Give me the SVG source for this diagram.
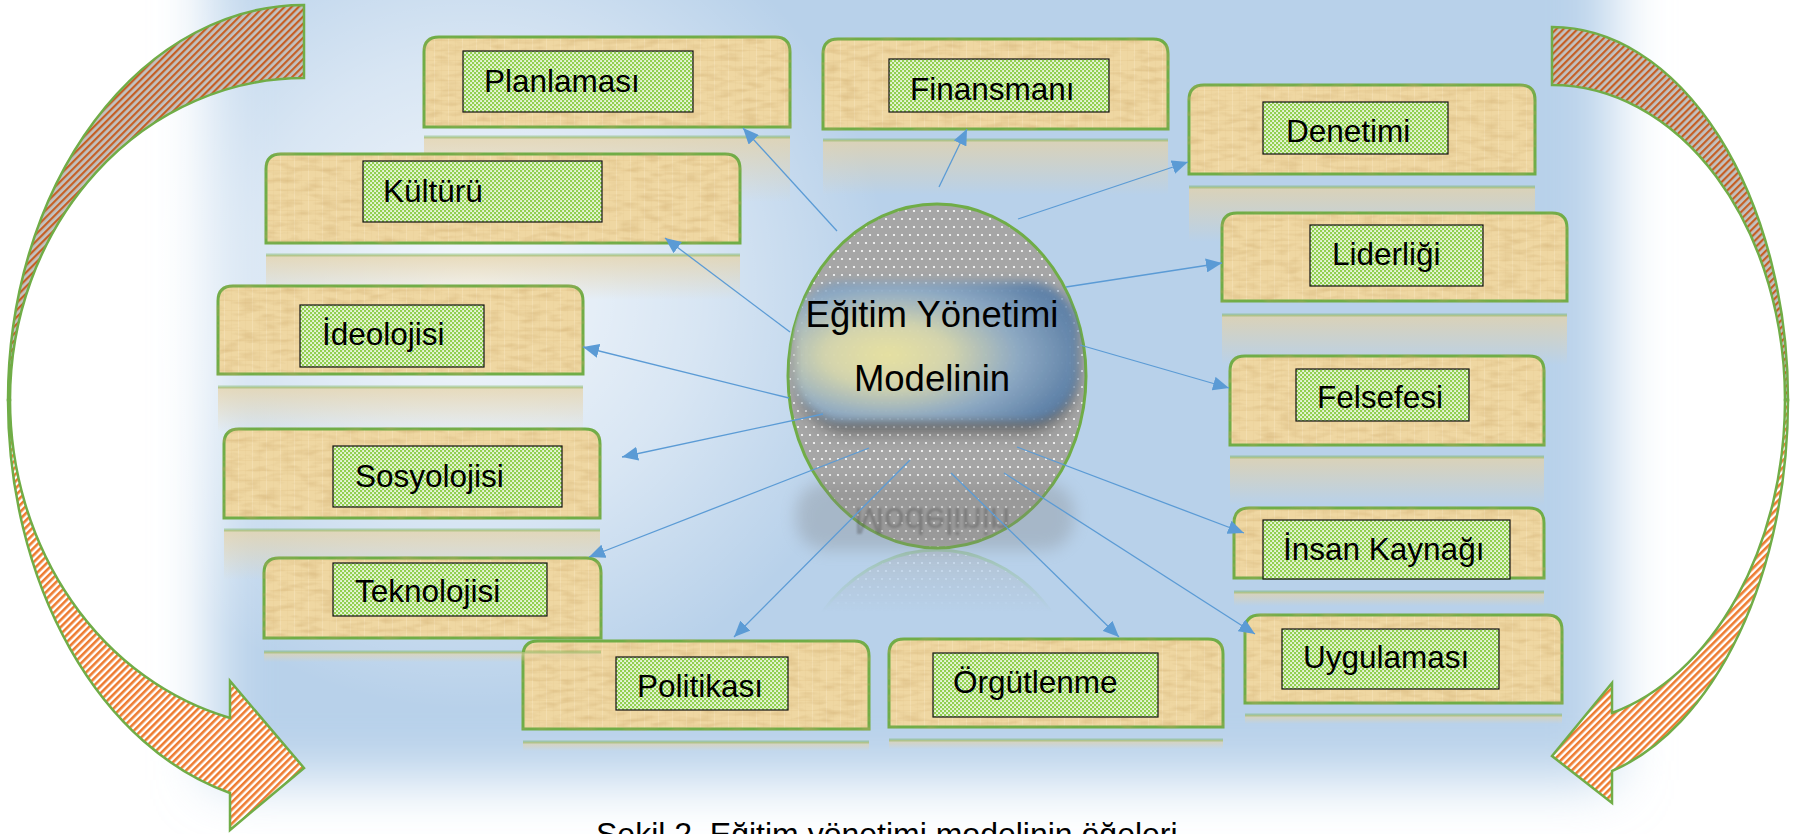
<svg xmlns="http://www.w3.org/2000/svg" width="1795" height="834" viewBox="0 0 1795 834">
<defs>
  <style>
    .tab{fill:url(#parch);stroke:#70ad47;stroke-width:3;filter:url(#paper)}
    .box{fill:url(#check);stroke:#111;stroke-width:1.2}
    .lbl{font-family:"Liberation Sans",Arial,sans-serif;font-size:31.5px;fill:#000}
    .refl{fill:url(#reflFade)}
    .rline{stroke:#70ad47;stroke-width:3;opacity:.4}
    .conn{stroke:#5b9bd5;stroke-width:1.3;fill:none;marker-end:url(#ah)}
    .band{stroke:#70ad47;stroke-width:2.5;stroke-linejoin:miter}
  </style>
  <filter id="bgBlur" x="-10%" y="-15%" width="120%" height="130%">
    <feGaussianBlur stdDeviation="28"/>
  </filter>
  <filter id="soft" x="-20%" y="-30%" width="140%" height="160%">
    <feGaussianBlur stdDeviation="5"/>
  </filter>
  <filter id="softer" x="-20%" y="-40%" width="140%" height="180%">
    <feGaussianBlur stdDeviation="8"/>
  </filter>
  <filter id="tiny" x="-5%" y="-20%" width="110%" height="140%">
    <feGaussianBlur stdDeviation="1.2"/>
  </filter>
  <!-- faint mottled papyrus look for the tabs -->
  <filter id="paper" x="-2%" y="-4%" width="104%" height="108%" color-interpolation-filters="sRGB">
    <feTurbulence type="fractalNoise" baseFrequency="0.05 0.18" numOctaves="2" seed="7" result="n"/>
    <feColorMatrix in="n" type="matrix" values="0 0 0 0 0.8  0 0 0 0 0.66  0 0 0 0 0.42  0 0 0 0.9 -0.4" result="spots"/>
    <feComposite in="spots" in2="SourceGraphic" operator="in" result="sp"/>
    <feMerge><feMergeNode in="SourceGraphic"/><feMergeNode in="sp"/></feMerge>
  </filter>
  <radialGradient id="hl" gradientUnits="userSpaceOnUse" cx="470" cy="290" r="420">
    <stop offset="0" stop-color="#ffffff" stop-opacity=".85"/>
    <stop offset=".55" stop-color="#ffffff" stop-opacity=".45"/>
    <stop offset="1" stop-color="#ffffff" stop-opacity="0"/>
  </radialGradient>
  <pattern id="stripeDark" width="5" height="5" patternUnits="userSpaceOnUse" patternTransform="rotate(45)">
    <rect width="5" height="5" fill="#c2c2c2"/>
    <rect width="2.2" height="5" fill="#c55f25"/>
  </pattern>
  <pattern id="stripeLight" width="5" height="5" patternUnits="userSpaceOnUse" patternTransform="rotate(45)">
    <rect width="5" height="5" fill="#ffffff"/>
    <rect width="2.6" height="5" fill="#ee7b30"/>
  </pattern>
  <pattern id="parch" width="14" height="10" patternUnits="userSpaceOnUse">
    <rect width="14" height="10" fill="#efd7a2"/>
    <rect width="14" height="1" fill="#e4c990" opacity=".35"/>
    <rect width="1" height="10" fill="#f7e6be" opacity=".5"/>
    <rect x="7" width="1" height="10" fill="#e6cb94" opacity=".25"/>
  </pattern>
  <pattern id="check" width="4" height="4" patternUnits="userSpaceOnUse">
    <rect width="4" height="4" fill="#92d050"/>
    <rect x=".2" y=".2" width="1.7" height="1.7" fill="#ffffff"/>
    <rect x="2.2" y="2.2" width="1.7" height="1.7" fill="#ffffff"/>
  </pattern>
  <pattern id="dots" width="8" height="16" patternUnits="userSpaceOnUse">
    <rect width="8" height="16" fill="#a6a6a6"/>
    <circle cx="2" cy="3" r="1.1" fill="#ffffff"/>
    <circle cx="6" cy="11" r="1.1" fill="#ffffff"/>
  </pattern>
  <linearGradient id="reflFade" x1="0" y1="0" x2="0" y2="1">
    <stop offset="0" stop-color="#e6d2a6" stop-opacity=".75"/>
    <stop offset="1" stop-color="#e6d2a6" stop-opacity="0"/>
  </linearGradient>
  <radialGradient id="pillGrad" cx=".33" cy=".52" r=".7">
    <stop offset="0" stop-color="#ede7a4"/>
    <stop offset=".3" stop-color="#dcdcb0"/>
    <stop offset=".65" stop-color="#91aec9"/>
    <stop offset="1" stop-color="#5b80a9"/>
  </radialGradient>
  <clipPath id="ellClip">
    <ellipse cx="937" cy="376" rx="149" ry="172"/>
  </clipPath>
  <linearGradient id="ellRefGrad" gradientUnits="userSpaceOnUse" x1="0" y1="549" x2="0" y2="612">
    <stop offset="0" stop-color="#fff" stop-opacity=".35"/>
    <stop offset="1" stop-color="#fff" stop-opacity="0"/>
  </linearGradient>
  <mask id="ellRefMask" maskUnits="userSpaceOnUse" x="700" y="540" width="480" height="90">
    <rect x="700" y="540" width="480" height="90" fill="url(#ellRefGrad)"/>
  </mask>
  <marker id="ah" markerUnits="userSpaceOnUse" markerWidth="16" markerHeight="14" refX="16" refY="7" orient="auto">
    <path d="M0,0 L16,7 L0,14 Z" fill="#5b9bd5"/>
  </marker>
</defs>

<!-- soft blue backdrop -->
<g id="backdrop">
  <rect x="212" y="-120" width="1400" height="900" fill="#b8d1ea" filter="url(#bgBlur)"/>
  <rect x="0" y="0" width="1795" height="834" fill="url(#hl)"/>
</g>

<!-- circular arrows -->
<g id="arrow-left">
  <path class="band" fill="url(#stripeDark)" d="M304,5 L304,78 A294,322 0 0 0 10,400 L8,400 A296,395 0 0 1 304,5 Z"/>
  <path class="band" fill="url(#stripeLight)" d="M8,400 A296,406 0 0 0 230,793 L230,830 L304,768 L230,681 L230,718 A294,329 0 0 1 10,400 Z"/>
</g>
<g id="arrow-right">
  <path class="band" fill="url(#stripeDark)" d="M1552,27 L1552,85 A233,315 0 0 1 1785,400 L1788,400 A236,373 0 0 0 1552,27 Z"/>
  <path class="band" fill="url(#stripeLight)" d="M1788,400 A236,384 0 0 1 1612,771 L1612,803 L1552,756 L1612,683 L1612,713 A233,324 0 0 0 1785,400 Z"/>
</g>

<!-- nodes -->
<g id="node-planlamasi">
  <rect class="refl" x="424" y="137" width="366" height="65"/>
  <line class="rline" x1="424" y1="137" x2="790" y2="137"/>
  <path class="tab" d="M424,127 V52 Q424,37 439,37 H775 Q790,37 790,52 V127 Z"/>
  <rect class="box" x="463" y="51" width="230" height="61"/>
  <text class="lbl" x="484" y="92">Planlaması</text>
</g>
<g id="node-finansmani">
  <rect class="refl" x="823" y="140" width="345" height="55"/>
  <line class="rline" x1="823" y1="140" x2="1168" y2="140"/>
  <path class="tab" d="M823,129 V54 Q823,39 838,39 H1153 Q1168,39 1168,54 V129 Z"/>
  <rect class="box" x="889" y="59" width="220" height="53"/>
  <text class="lbl" x="910" y="100">Finansmanı</text>
</g>
<g id="node-kulturu">
  <rect class="refl" x="266" y="255" width="474" height="45"/>
  <line class="rline" x1="266" y1="255" x2="740" y2="255"/>
  <path class="tab" d="M266,243 V169 Q266,154 281,154 H725 Q740,154 740,169 V243 Z"/>
  <rect class="box" x="363" y="161" width="239" height="61"/>
  <text class="lbl" x="383" y="202">Kültürü</text>
</g>
<g id="node-denetimi">
  <rect class="refl" x="1189" y="187" width="346" height="55"/>
  <line class="rline" x1="1189" y1="187" x2="1535" y2="187"/>
  <path class="tab" d="M1189,174 V100 Q1189,85 1204,85 H1520 Q1535,85 1535,100 V174 Z"/>
  <rect class="box" x="1263" y="102" width="185" height="52"/>
  <text class="lbl" x="1286" y="142">Denetimi</text>
</g>
<g id="node-liderligi">
  <rect class="refl" x="1222" y="315" width="345" height="50"/>
  <line class="rline" x1="1222" y1="315" x2="1567" y2="315"/>
  <path class="tab" d="M1222,301 V228 Q1222,213 1237,213 H1552 Q1567,213 1567,228 V301 Z"/>
  <rect class="box" x="1310" y="225" width="173" height="61"/>
  <text class="lbl" x="1332" y="265">Liderliği</text>
</g>
<g id="node-ideolojisi">
  <rect class="refl" x="218" y="387" width="365" height="45"/>
  <line class="rline" x1="218" y1="387" x2="583" y2="387"/>
  <path class="tab" d="M218,374 V301 Q218,286 233,286 H568 Q583,286 583,301 V374 Z"/>
  <rect class="box" x="300" y="305" width="184" height="62"/>
  <text class="lbl" x="322" y="345">İdeolojisi</text>
</g>
<g id="node-felsefesi">
  <rect class="refl" x="1230" y="457" width="314" height="48"/>
  <line class="rline" x1="1230" y1="457" x2="1544" y2="457"/>
  <path class="tab" d="M1230,445 V371 Q1230,356 1245,356 H1529 Q1544,356 1544,371 V445 Z"/>
  <rect class="box" x="1296" y="369" width="173" height="52"/>
  <text class="lbl" x="1317" y="408">Felsefesi</text>
</g>
<g id="node-sosyolojisi">
  <rect class="refl" x="224" y="530" width="376" height="50"/>
  <line class="rline" x1="224" y1="530" x2="600" y2="530"/>
  <path class="tab" d="M224,518 V444 Q224,429 239,429 H585 Q600,429 600,444 V518 Z"/>
  <rect class="box" x="333" y="446" width="229" height="61"/>
  <text class="lbl" x="355" y="487">Sosyolojisi</text>
</g>
<g id="node-insan-kaynagi">
  <rect class="refl" x="1234" y="592" width="310" height="14"/>
  <line class="rline" x1="1234" y1="592" x2="1544" y2="592"/>
  <path class="tab" d="M1234,578 V523 Q1234,508 1249,508 H1529 Q1544,508 1544,523 V578 Z"/>
  <rect class="box" x="1263" y="520" width="247" height="59"/>
  <text class="lbl" x="1283" y="560">İnsan Kaynağı</text>
</g>
<g id="node-politikasi">
  <rect class="refl" x="523" y="742" width="346" height="9"/>
  <line class="rline" x1="523" y1="742" x2="869" y2="742"/>
  <path class="tab" d="M523,729 V656 Q523,641 538,641 H854 Q869,641 869,656 V729 Z"/>
  <rect class="box" x="616" y="657" width="172" height="53"/>
  <text class="lbl" x="637" y="697">Politikası</text>
</g>
<g id="node-teknolojisi">
  <rect class="refl" x="264" y="652" width="337" height="10"/>
  <line class="rline" x1="264" y1="652" x2="601" y2="652"/>
  <path class="tab" d="M264,638 V573 Q264,558 279,558 H586 Q601,558 601,573 V638 Z"/>
  <rect class="box" x="333" y="563" width="214" height="53"/>
  <text class="lbl" x="355" y="602">Teknolojisi</text>
</g>
<g id="node-uygulamasi">
  <rect class="refl" x="1245" y="715" width="317" height="9"/>
  <line class="rline" x1="1245" y1="715" x2="1562" y2="715"/>
  <path class="tab" d="M1245,703 V630 Q1245,615 1260,615 H1547 Q1562,615 1562,630 V703 Z"/>
  <rect class="box" x="1282" y="629" width="217" height="60"/>
  <text class="lbl" x="1303" y="668">Uygulaması</text>
</g>
<g id="node-orgutlenme">
  <rect class="refl" x="889" y="740" width="334" height="9"/>
  <line class="rline" x1="889" y1="740" x2="1223" y2="740"/>
  <path class="tab" d="M889,727 V654 Q889,639 904,639 H1208 Q1223,639 1223,654 V727 Z"/>
  <rect class="box" x="933" y="653" width="225" height="64"/>
  <text class="lbl" x="953" y="693">Örgütlenme</text>
</g>

<!-- central ellipse -->
<g id="node-center">
  <g mask="url(#ellRefMask)">
    <ellipse cx="937" cy="722" rx="149" ry="172" fill="url(#dots)" stroke="#70ad47" stroke-width="3"/>
  </g>
  <ellipse cx="937" cy="376" rx="149" ry="172" fill="url(#dots)" stroke="#70ad47" stroke-width="3"/>
  <rect x="796" y="482" width="278" height="68" rx="30" fill="#7d7d7d" opacity=".3" filter="url(#softer)"/>
  <g clip-path="url(#ellClip)">
    <rect x="800" y="296" width="274" height="136" rx="50" fill="#2e2e2e" opacity=".55" filter="url(#softer)"/>
    <rect x="794" y="282" width="284" height="140" rx="50" fill="url(#pillGrad)" opacity=".95" filter="url(#soft)"/>
  </g>
  <text x="932" y="391" transform="translate(0,899) scale(1,-1)" text-anchor="middle" font-family="Liberation Sans, Arial, sans-serif" font-size="36.5" fill="#444" opacity=".35" filter="url(#tiny)">Modelinin</text>
  <text x="932" y="327" text-anchor="middle" font-family="Liberation Sans, Arial, sans-serif" font-size="36.5" fill="#000">Eğitim Yönetimi</text>
  <text x="932" y="391" text-anchor="middle" font-family="Liberation Sans, Arial, sans-serif" font-size="36.5" fill="#000">Modelinin</text>
</g>

<!-- connectors -->
<g id="connectors">
  <line class="conn" x1="837" y1="231" x2="743" y2="128"/>
  <line class="conn" x1="790" y1="332" x2="665" y2="238"/>
  <line class="conn" x1="939" y1="187" x2="967" y2="129"/>
  <line class="conn" x1="1018" y1="219" x2="1188" y2="162"/>
  <line class="conn" x1="1066" y1="287" x2="1222" y2="263"/>
  <line class="conn" x1="1080" y1="345" x2="1229" y2="388"/>
  <line class="conn" x1="1017" y1="447" x2="1244" y2="533"/>
  <line class="conn" x1="1004" y1="473" x2="1255" y2="634"/>
  <line class="conn" x1="951" y1="473" x2="1119" y2="637"/>
  <line class="conn" x1="910" y1="460" x2="734" y2="637"/>
  <line class="conn" x1="869" y1="448" x2="589" y2="557"/>
  <line class="conn" x1="823" y1="414" x2="622" y2="457"/>
  <line class="conn" x1="789" y1="398" x2="583" y2="347"/>
</g>

<!-- caption, cropped by the lower edge -->
<text id="caption" x="596" y="845" font-family="Liberation Sans, Arial, sans-serif" font-size="32" fill="#000">Şekil 2. Eğitim yönetimi modelinin öğeleri</text>
</svg>
